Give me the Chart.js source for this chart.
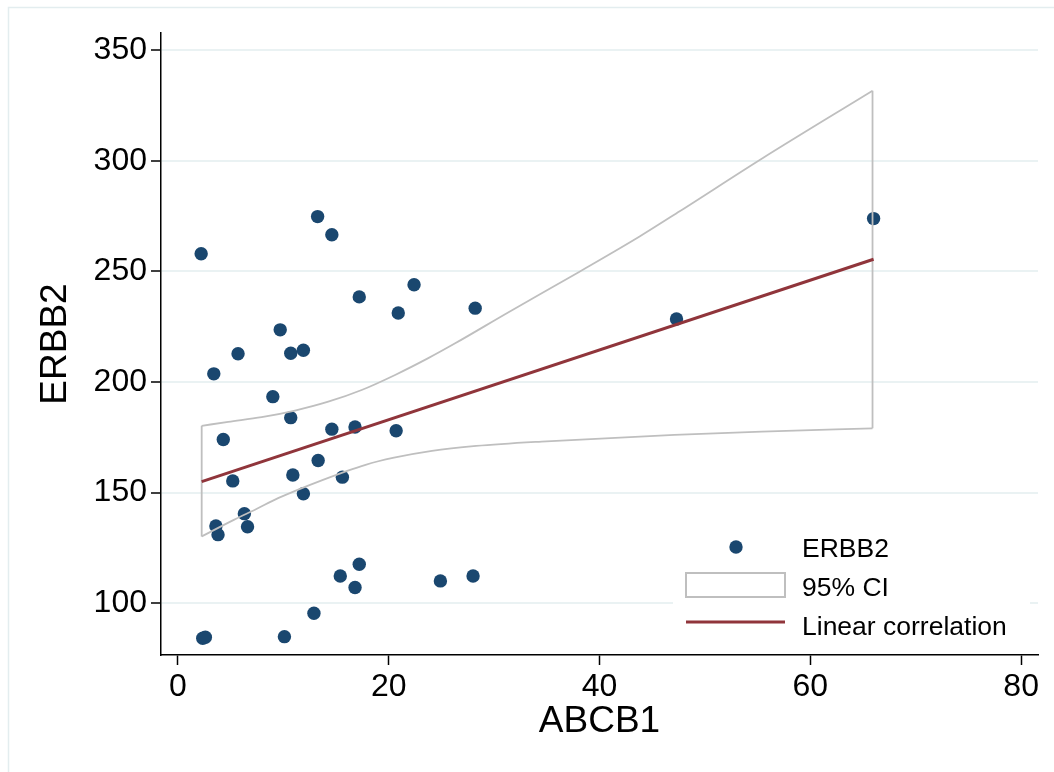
<!DOCTYPE html>
<html>
<head>
<meta charset="utf-8">
<script src="https://cdn.jsdelivr.net/npm/chart.js@4/dist/chart.umd.min.js"></script>
<style>
  body { margin: 0; background: #fff; }
  canvas { display: block; }
</style>
</head>
<body>
<canvas id="c" width="1054" height="772"></canvas>
<script>
// values
var abcb1 = [2.2, 13.25, 14.6, 17.2, 22.4, 20.9, 28.2, 9.7, 5.7, 10.7, 11.9, 3.4, 9.0, 10.7,
  14.6, 16.8, 20.7, 4.3, 13.3, 10.9, 15.6, 5.2, 11.9, 6.3, 3.6, 6.6, 3.8, 17.2, 15.4, 16.8,
  24.9, 28.0, 12.9, 2.35, 2.6, 10.1, 47.3, 66.0];
var erbb2 = [258, 274.8, 266.6, 238.5, 244.0, 231.2, 233.4, 223.6, 212.8, 213.0, 214.4, 203.7,
  193.4, 183.9, 178.7, 179.7, 178.0, 174.0, 164.5, 158.0, 157.0, 155.3, 149.5, 140.5, 134.9,
  134.6, 131.0, 117.6, 112.3, 107.1, 110.1, 112.3, 95.5, 84.2, 84.6, 84.9, 228.5, 273.9];

var fitX = [2.25, 66.0];
var fitY = [155.0, 255.5];

var ciUpperX = [2.25, 4.77, 7.94, 11.1, 14.26, 17.43, 20.6, 23.75, 26.3, 31.2, 38.1, 43.8, 47.6, 55.5, 65.9];
var ciUpperY = [180.2, 182.0, 184.1, 187.1, 191.1, 196.4, 203.2, 210.8, 217.5, 231.1, 249.9, 265.8, 277.2, 301.3, 331.7];
var ciLowerX = [2.25, 5.3, 7.4, 9.5, 13.7, 17.8, 20.5, 24.1, 28.3, 34.5, 47.1, 55.4, 65.9];
var ciLowerY = [130.2, 137.7, 142.5, 147.5, 155.7, 162.6, 165.8, 168.9, 171.1, 173.1, 176.1, 177.6, 179.1];

var xTicks = [0, 20, 40, 60, 80];
var yTicks = [100, 150, 200, 250, 300, 350];

var navy = "#1a476f";
var maroon = "#90353b";
var ciGray = "#bfbfbf";
var font = "'Liberation Sans', Arial, sans-serif";

var points = abcb1.map(function (x, i) { return { x: x, y: erbb2[i] }; });
var fitLine = fitX.map(function (x, i) { return { x: x, y: fitY[i] }; });
var ciUpper = ciUpperX.map(function (x, i) { return { x: x, y: ciUpperY[i] }; });
var ciLower = ciLowerX.map(function (x, i) { return { x: x, y: ciLowerY[i] }; });
var nUp = ciUpper.length - 1, nLo = ciLower.length - 1;
// the two vertical ends of the band, with a gap between them
var ciEnds = [
  ciLower[0], ciUpper[0],
  { x: 30, y: null },
  ciLower[nLo], ciUpper[nUp],
];

var frame = {
  id: "frame",
  beforeDraw: function (chart) {
    var ctx = chart.ctx;
    ctx.save();
    ctx.fillStyle = "#fff";
    ctx.fillRect(0, 0, chart.width, chart.height);
    ctx.strokeStyle = "#e3edef";
    ctx.lineWidth = 1.5;
    ctx.strokeRect(8.5, 7.5, chart.width, chart.height);
    ctx.restore();
  },
};

var keyBox = {
  id: "keyBox",
  afterDraw: function (chart) {
    var ctx = chart.ctx;
    var ds = chart.data.datasets;
    ctx.save();
    ctx.fillStyle = "#fff";
    ctx.fillRect(673, 528, 357, 120);

    ctx.fillStyle = navy;
    ctx.beginPath();
    ctx.arc(736, 547, 6.7, 0, Math.PI * 2);
    ctx.fill();

    ctx.strokeStyle = ciGray;
    ctx.lineWidth = 2;
    ctx.strokeRect(686, 573, 99, 24);

    ctx.strokeStyle = maroon;
    ctx.lineWidth = 3;
    ctx.beginPath();
    ctx.moveTo(686, 622);
    ctx.lineTo(785, 622);
    ctx.stroke();

    ctx.fillStyle = "#000";
    ctx.font = "26.5px " + font;
    ctx.textBaseline = "alphabetic";
    ctx.fillText(ds[4].label, 802, 557);
    ctx.fillText(ds[1].label, 802, 596);
    ctx.fillText(ds[0].label, 802, 635);
    ctx.restore();
  },
};

var ciStyle = {
  showLine: true,
  borderColor: ciGray,
  borderWidth: 1.8,
  pointRadius: 0,
  cubicInterpolationMode: "monotone",
};

new Chart(document.getElementById("c"), {
  type: "scatter",
  data: {
    datasets: [
      {
        label: "Linear correlation",
        data: fitLine,
        showLine: true,
        borderColor: maroon,
        borderWidth: 3,
        pointRadius: 0,
      },
      Object.assign({ label: "95% CI", data: ciUpper }, ciStyle),
      Object.assign({ label: "95% CI lower", data: ciLower }, ciStyle),
      Object.assign({ label: "95% CI ends", data: ciEnds, spanGaps: false }, ciStyle, { cubicInterpolationMode: "default", tension: 0 }),
      {
        label: "ERBB2",
        data: points,
        backgroundColor: navy,
        borderWidth: 0,
        pointRadius: 6.7,
      },
    ],
  },
  options: {
    responsive: false,
    animation: false,
    devicePixelRatio: 1,
    layout: { padding: { top: 33, right: 16, left: 0, bottom: 0 } },
    plugins: {
      legend: { display: false },
      tooltip: { enabled: false },
    },
    scales: {
      x: {
        type: "linear",
        min: -1.61,
        max: 81.6,
        afterFit: function (s) { s.height = 117; },
        afterBuildTicks: function (s) { s.ticks = xTicks.map(function (v) { return { value: v }; }); },
        grid: { drawOnChartArea: false, drawTicks: true, tickLength: 10, tickColor: "#000", tickWidth: 1.5 },
        border: { display: true, color: "#000", width: 1.5 },
        ticks: { color: "#000", font: { family: font, size: 32 }, padding: 3, maxRotation: 0 },
        title: {
          display: true,
          text: "ABCB1",
          color: "#000",
          font: { family: font, size: 37 },
          padding: { top: 0, bottom: 28 },
        },
      },
      y: {
        type: "linear",
        min: 76.6,
        max: 357.8,
        afterFit: function (s) { s.width = 161; },
        afterBuildTicks: function (s) { s.ticks = yTicks.map(function (v) { return { value: v }; }); },
        grid: { color: "#eaf2f3", lineWidth: 2, drawTicks: true, tickLength: 10, tickColor: "#000", tickWidth: 1.5 },
        border: { display: true, color: "#000", width: 1.5 },
        ticks: { color: "#000", font: { family: font, size: 32 }, padding: 4 },
        title: {
          display: true,
          text: "ERBB2",
          color: "#000",
          font: { family: font, size: 37 },
          padding: { top: 34, bottom: 0 },
        },
      },
    },
  },
  plugins: [frame, keyBox],
});
</script>
</body>
</html>
